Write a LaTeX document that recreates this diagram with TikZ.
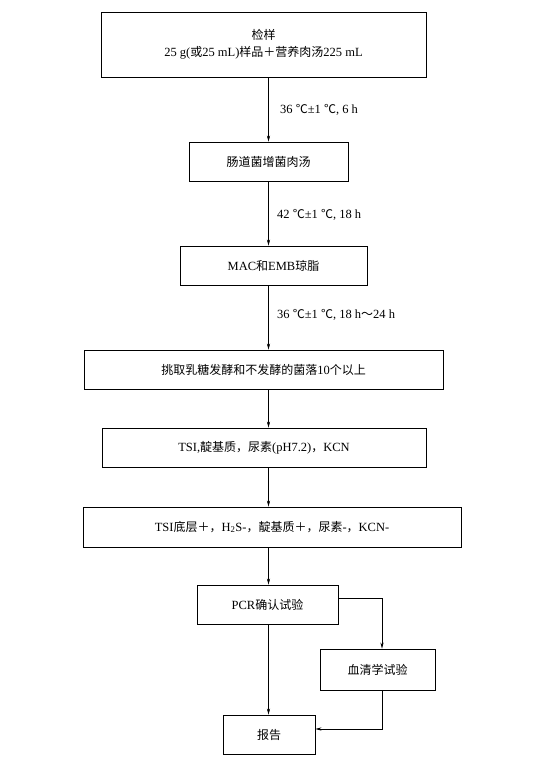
\documentclass[tikz,border=0pt]{standalone}
\usepackage{fontspec}
\setmainfont{Liberation Serif}
\newfontfamily\cjk{Noto Sans CJK SC}[Scale=0.96]
\usetikzlibrary{arrows.meta}
\begin{document}
\begin{tikzpicture}[x=1pt,y=-1pt,
  box/.style={draw,line width=0.9pt,inner sep=0pt,minimum height=39pt,align=center,font=\fontsize{12.5}{17}\selectfont},
  arr/.style={-{Stealth[length=6pt,width=3.2pt]},line width=0.5pt},
  lbl/.style={anchor=west,inner sep=0pt,font=\fontsize{12.5}{14}\selectfont}]
\useasboundingbox (0,0) rectangle (556,760);
\def\ax{268.5} \def\rx{382}
\coordinate (axis) at (\ax,0);
\coordinate (side) at (\rx,0);
\node[box,minimum width=325pt,minimum height=65pt] (jianyang) at (263.5,44.5) {{\cjk 检样}\\25 g({\cjk 或}25 mL){\cjk 样品＋营养肉汤}225 mL};
\node[box,minimum width=159pt] (zengjun) at (268.5,161.5) {\cjk 肠道菌增菌肉汤};
\node[box,minimum width=187pt] (qiongzhi) at (273.5,265.5) {MAC{\cjk 和}EMB{\cjk 琼脂}};
\node[box,minimum width=359pt] (tiaoqu) at (263.5,369.5) {{\cjk 挑取乳糖发酵和不发酵的菌落}10{\cjk 个以上}};
\node[box,minimum width=324pt] (shengh) at (264,447.5) {TSI,{\cjk 靛基质，尿素}(pH7.2){\cjk ，}KCN};
\node[box,minimum width=378pt,minimum height=40pt] (jieguo) at (272,527) {TSI{\cjk 底层＋，}H\textsubscript{2}S-{\cjk ，靛基质＋，尿素}-{\cjk ，}KCN-};
\node[box,minimum width=141pt] (pcr) at (267.5,604.5) {PCR{\cjk 确认试验}};
\node[box,minimum width=115pt,minimum height=41pt] (xueqing) at (377.5,669.5) {\cjk 血清学试验};
\node[box,minimum width=92pt] (baogao) at (269,734.5) {\cjk 报告};
\node[lbl] (wd1) at (280,109.5) {36 {\cjk ℃}±1 {\cjk ℃}, 6 h};
\node[lbl] (wd2) at (277,215) {42 {\cjk ℃}±1 {\cjk ℃}, 18 h};
\node[lbl] (wd3) at (277,315) {36 {\cjk ℃}±1 {\cjk ℃}, 18 h{\cjk ～}24 h};
\draw[arr] (jianyang.south -| axis) -- (zengjun.north -| axis);
\draw[arr] (zengjun.south -| axis) -- (qiongzhi.north -| axis);
\draw[arr] (qiongzhi.south -| axis) -- (tiaoqu.north -| axis);
\draw[arr] (tiaoqu.south -| axis) -- (shengh.north -| axis);
\draw[arr] (shengh.south -| axis) -- (jieguo.north -| axis);
\draw[arr] (jieguo.south -| axis) -- (pcr.north -| axis);
\draw[arr] (pcr.south -| axis) -- (baogao.north -| axis);
\draw[arr] ([yshift=6.5pt]pcr.east) -| (xueqing.north -| side);
\draw[arr] (xueqing.south -| side) |- ([yshift=5.5pt]baogao.east);
\end{tikzpicture}
\end{document}
